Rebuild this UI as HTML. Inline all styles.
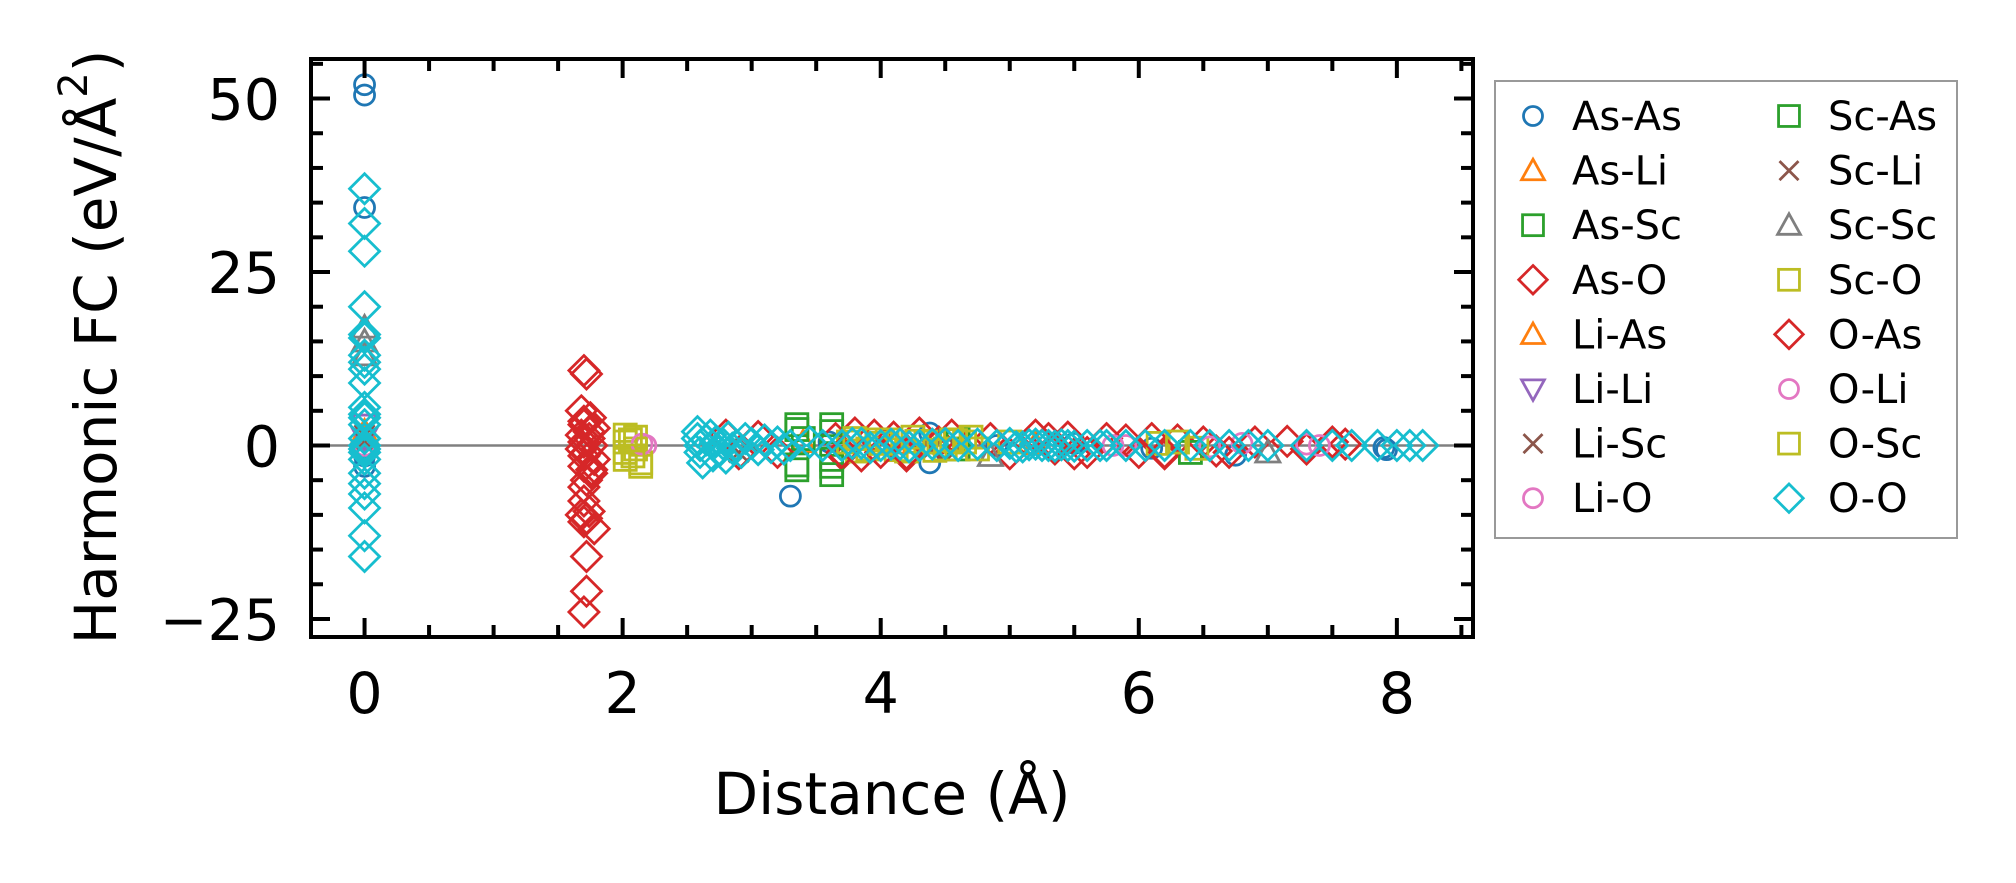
<!DOCTYPE html>
<html><head><meta charset="utf-8"><style>
html,body{margin:0;padding:0;background:#fff;}
svg{display:block;font-family:"DejaVu Sans","Liberation Sans",sans-serif;}
</style></head><body>
<svg id="chart" width="2016" height="883" viewBox="0 0 2016 883" xmlns="http://www.w3.org/2000/svg">
<rect width="2016" height="883" fill="#fff"/>
<g id="marks"></g>
<g id="axes"></g>
<text x="96" y="347" font-size="58" text-anchor="middle" dominant-baseline="central" transform="rotate(-90 96 347)">Harmonic FC (eV/Å<tspan font-size="40" dy="-22">2</tspan><tspan dy="22">)</tspan></text>
<text x="892" y="814" font-size="58" text-anchor="middle">Distance (Å)</text>
<g id="legend"></g>
</svg>
<script>
const xTicks = [0, 2, 4, 6, 8];
const yTicks = [-25, 0, 25, 50];
const seriesNames = ["As-As","As-Li","As-Sc","As-O","Li-As","Li-Li","Li-Sc","Li-O","Sc-As","Sc-Li","Sc-Sc","Sc-O","O-As","O-Li","O-Sc","O-O"];
const seriesColors = ["#1f77b4","#ff7f0e","#2ca02c","#d62728","#ff7f0e","#9467bd","#8c564b","#e377c2","#2ca02c","#8c564b","#7f7f7f","#bcbd22","#d62728","#e377c2","#bcbd22","#17becf"];
const seriesMarkers = ["o","^","s","D","^","v","x","o","s","x","^","s","D","o","s","D"];
const asAs = [[0,52],[0,50.5],[0,34.3],[0,-1.5],[0,-3],[3.3,-7.3],[3.6,0.5],[4.38,1.8],[4.38,-2.5],[4.9,0],[5.5,0.3],[6.1,-0.4],[6.75,-1.4],[7.9,-0.3],[7.92,-0.6]];
const asLi = [[0,1],[3.4,0.5],[5.2,0.2]];
const asSc = [[3.4,1],[4.6,-0.5]];
const asO = [[1.7,10.8],[1.72,10.3],[1.68,5],[1.75,4],[1.7,3],[1.78,2.5],[1.68,1.5],[1.74,1],[1.7,0.5],[1.76,0],[1.68,-0.5],[1.72,-1],[1.78,-2],[1.7,-3],[1.76,-4],[1.72,-5],[1.7,-8],[1.68,-10],[1.72,-10.5],[1.7,-11],[1.78,-12],[1.72,-16],[1.72,-21],[1.7,-24],[2.8,1.5],[2.9,-1.2],[3.05,1.3],[3.2,-1],[3.65,1],[3.7,-1.3],[3.8,1.8],[3.95,1.5],[4.1,1.2],[4.2,-1.5],[4.3,1.8],[4.45,0.5],[4.55,1.5],[4.85,1],[5.0,-1.2],[5.2,1.5],[5.35,-0.5],[5.45,1.2],[5.6,-1],[5.75,1],[5.9,0.8],[6.1,1],[6.2,-1.2],[6.3,0.8],[6.5,0.5],[6.6,-0.8],[6.9,0.5],[7.15,0.6],[7.3,-0.5],[7.5,0.5],[7.6,0.2]];
const liAs = [[0,2],[4.1,0.3]];
const liLi = [[0,3],[0,1]];
const liSc = [[0,0.5],[2.9,-1],[4.6,-0.4]];
const liO = [[0,0],[2.18,0],[5.9,0],[6.8,0.3],[7.3,0.2]];
const scAs = [[3.35,3],[3.35,2.3],[3.35,-2.8],[3.35,-3.5],[3.62,3],[3.62,2],[3.62,-2],[3.62,-3],[3.62,-4.2],[4.6,0.8],[6.4,-1]];
const scLi = [[0,1.5],[4.4,-0.5]];
const scSc = [[0,17],[0,15],[0,13],[4.85,-1.5],[7.0,-1]];
const scO = [[2.02,1.5],[2.02,0.5],[2.02,-1],[2.02,-2],[2.1,1.2],[2.1,-0.5],[2.14,-2.5],[2.14,-3],[3.75,0.5],[3.82,-0.8],[3.9,-0.5],[3.97,0.8],[4.05,0.8],[4.12,-0.6],[4.2,-0.8],[4.28,0.6],[4.35,0.5],[4.42,-0.7],[4.5,-0.5],[4.58,0.7],[4.65,0.5],[4.75,-0.5],[6.15,0.3],[6.45,-0.4]];
const oAs = [[1.7,3.5],[1.74,2],[1.7,-1.5],[1.76,-3.5],[1.7,-6],[1.74,-9.5],[3.7,-1],[3.85,-1.5],[4.0,-1],[4.2,-1.2],[5.3,1],[5.5,-1.2],[6.0,-1],[6.2,-1],[6.7,-1]];
const oLi = [[2.15,0.2],[5.8,0],[6.55,-0.2],[7.4,0]];
const oSc = [[2.06,0.8],[2.08,-1.5],[3.8,1],[4.0,0.3],[4.25,1.2],[4.55,0.8],[4.7,1.2],[5.0,0.5],[6.3,0.5]];
const oO = [[0,37],[0,32],[0,28],[0,20],[0,16],[0,15.5],[0,13],[0,12],[0,11],[0,9],[0,5.5],[0,4.5],[0,4],[0,3],[0,1],[0,0],[0,-0.5],[0,-1],[0,-2],[0,-4],[0,-5.5],[0,-7],[0,-9],[0,-13],[0,-16],
[2.58,2],[2.58,1],[2.6,0],[2.6,-1],[2.62,-2.5],[2.65,0.8],[2.68,1.5],[2.7,-1.5],[2.72,0.5],[2.75,-0.8],[2.78,0.2],[2.8,-1.8],[2.82,1.2],[2.85,-0.4],[2.88,0],[2.92,-1],[2.95,1],[3.0,0.3],[3.05,-0.6],[3.1,0.8],[3.15,-0.3],[3.2,0.5],[3.25,-0.5],[3.3,0],[3.45,0.5],[3.55,0],[3.7,0],[3.78,0.3],[3.85,0.3],[3.92,-0.3],[4.0,0],[4.08,0.2],[4.15,0.2],[4.22,-0.2],[4.3,0],[4.4,0.2],[4.5,0.3],[4.6,0],[4.75,0.2],[4.9,0],[5.0,0.3],[5.05,-0.2],[5.1,-0.2],[5.15,0.1],[5.2,0.2],[5.25,0],[5.3,0],[5.35,-0.1],[5.4,0.1],[5.45,0],[5.5,-0.1],[5.6,0],[5.7,0],[5.75,0],[5.9,0],[6.05,0],[6.2,0],[6.4,0],[6.55,0],[6.7,0],[6.85,0],[7.0,0],[7.3,0],[7.5,0],[7.65,0],[7.85,0],[8.0,0],[8.1,0],[8.2,0]];
const seriesData = [asAs,asLi,asSc,asO,liAs,liLi,liSc,liO,scAs,scLi,scSc,scO,oAs,oLi,oSc,oO];

const NS = "http://www.w3.org/2000/svg";
const L = 311, R = 1473, T = 59, B = 637;
const xMin = -0.415, xMax = 8.59, yMin = -27.6, yMax = 55.7;
function sx(v){ return L + (v - xMin) / (xMax - xMin) * (R - L); }
function sy(v){ return B - (v - yMin) / (yMax - yMin) * (B - T); }
function mk(tag, attrs, parent){ const e = document.createElementNS(NS, tag); for (const k in attrs) e.setAttribute(k, attrs[k]); parent.appendChild(e); return e; }

function marker(parent, type, cx, cy, color, scale){
  const s = scale || 1; let e;
  const st = {fill:"none", stroke:color, "stroke-width":2.8};
  if (type === "o") { e = mk("circle", Object.assign({cx:cx, cy:cy, r:10*s}, st), parent); }
  else if (type === "s") { e = mk("rect", Object.assign({x:cx-11*s, y:cy-11*s, width:22*s, height:22*s}, st), parent); }
  else if (type === "D") { const h = 15*s; e = mk("polygon", Object.assign({points:`${cx},${cy-h} ${cx+h},${cy} ${cx},${cy+h} ${cx-h},${cy}`}, st), parent); }
  else if (type === "^") { const h = 12*s; e = mk("polygon", Object.assign({points:`${cx},${cy-h} ${cx+h},${cy+h*0.8} ${cx-h},${cy+h*0.8}`}, st), parent); }
  else if (type === "v") { const h = 12*s; e = mk("polygon", Object.assign({points:`${cx},${cy+h} ${cx+h},${cy-h*0.8} ${cx-h},${cy-h*0.8}`}, st), parent); }
  else { const h = 10*s; e = mk("path", Object.assign({d:`M${cx-h},${cy-h}L${cx+h},${cy+h}M${cx+h},${cy-h}L${cx-h},${cy+h}`}, st), parent); }
  return e;
}

const marks = document.getElementById("marks");
const zl = mk("line", {x1:L, x2:R, y1:sy(0), y2:sy(0), stroke:"#808080", "stroke-width":2.6}, marks);


seriesData.forEach((pts, i) => {
  const g = mk("g", {}, marks);
  
  
  pts.forEach(p => {
    const m = marker(g, seriesMarkers[i], sx(p[0]), sy(p[1]), seriesColors[i]);
    
    
  });
});

const axes = document.getElementById("axes");
const frame = mk("rect", {x:L, y:T, width:R-L, height:B-T, fill:"none", stroke:"#000", "stroke-width":4}, axes);


for (let v = 0; v <= 8.5; v += 0.5) {
  const X = sx(v), major = (v % 2 === 0), len = major ? 19 : 12;
  const t1 = mk("line", {x1:X, x2:X, y1:B, y2:B-len, stroke:"#000", "stroke-width":4}, axes);
  
  
  const t2 = mk("line", {x1:X, x2:X, y1:T, y2:T+len, stroke:"#000", "stroke-width":4}, axes);
  
  
}
for (let v = -25; v <= 55; v += 5) {
  const Y = sy(v), major = (v % 25 === 0), len = major ? 19 : 12;
  const t1 = mk("line", {x1:L, x2:L+len, y1:Y, y2:Y, stroke:"#000", "stroke-width":4}, axes);
  
  
  const t2 = mk("line", {x1:R, x2:R-len, y1:Y, y2:Y, stroke:"#000", "stroke-width":4}, axes);
  
  
}
xTicks.forEach(v => {
  const t = mk("text", {x:sx(v), y:713, "font-size":57, "text-anchor":"middle"}, axes);
  t.textContent = String(v);
  
  
});
yTicks.forEach(v => {
  const t = mk("text", {x:280, y:sy(v)+21, "font-size":57, "text-anchor":"end"}, axes);
  t.textContent = v < 0 ? "\u2212" + Math.abs(v) : String(v);
  
  
});

const leg = document.getElementById("legend");
const box = mk("rect", {x:1495, y:81, width:462, height:457, fill:"#fff", stroke:"#999", "stroke-width":2}, leg);


seriesNames.forEach((n, i) => {
  const col = Math.floor(i / 8), row = i % 8;
  const mx = col ? 1789 : 1533, tx = col ? 1828 : 1572, y = 116 + row * 54.6;
  const g = mk("g", {}, leg);
  
  
  marker(g, seriesMarkers[i], mx, y, seriesColors[i], 0.95);
  const t = mk("text", {x:tx, y:y+14, "font-size":40}, g);
  t.textContent = n;
});
</script>
</body></html>
